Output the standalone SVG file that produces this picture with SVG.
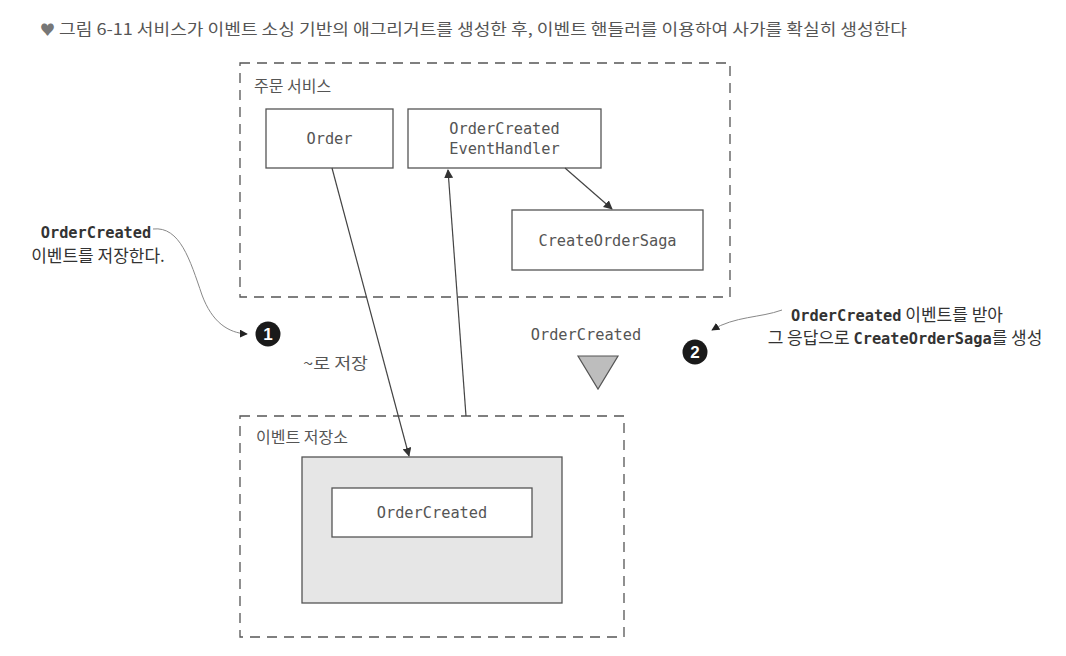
<svg xmlns="http://www.w3.org/2000/svg" width="1066" height="656" viewBox="0 0 1066 656">
<style>
.ko{font-family:"Noto Sans CJK KR","Noto Sans",sans-serif;}
.mono{font-family:"DejaVu Sans Mono","Liberation Mono",monospace;}
.box{fill:#fff;stroke:#555;stroke-width:1.3;}
.dash{fill:none;stroke:#555;stroke-width:1.3;stroke-dasharray:10 7;}
.node{font-size:15.3px;fill:#555;text-anchor:middle;}
.lbl{font-size:16px;fill:#555;}
.ann{font-size:17px;fill:#333;}
.annm{font-size:15.3px;}
.conn{fill:none;stroke:#444;stroke-width:1.2;}
.thin{fill:none;stroke:#888;stroke-width:1;}
</style>
<defs>
<marker id="ah" viewBox="0 0 10 10" refX="9" refY="5" markerWidth="9" markerHeight="9" markerUnits="userSpaceOnUse" orient="auto">
<path d="M0,0 L10,5 L0,10 z" fill="#333"/>
</marker>
<marker id="ah2" viewBox="0 0 10 10" refX="9" refY="5" markerWidth="8" markerHeight="8" markerUnits="userSpaceOnUse" orient="auto">
<path d="M0,0 L10,5 L0,10 z" fill="#222"/>
</marker>
</defs>
<rect width="1066" height="656" fill="#fff"/>

<g id="title">
<text x="40" y="35" class="ko" font-size="15px" fill="#777">♥</text>
<text x="59" y="35" class="ko" font-size="15.5px" fill="#555" textLength="848" lengthAdjust="spacingAndGlyphs">그림 6-11  서비스가 이벤트 소싱 기반의 애그리거트를 생성한 후, 이벤트 핸들러를 이용하여 사가를 확실히 생성한다</text>
</g>

<g id="order-service">
<rect x="240" y="63" width="490" height="234" class="dash"/>
<text x="254" y="92" class="ko lbl">주문 서비스</text>
</g>

<g id="order">
<rect x="266" y="109" width="127" height="59" class="box"/>
<text x="329.5" y="144" class="mono node">Order</text>
</g>

<g id="handler">
<rect x="408" y="109" width="193" height="59" class="box"/>
<text x="504.5" y="134" class="mono node">OrderCreated</text>
<text x="504.5" y="154" class="mono node">EventHandler</text>
</g>

<g id="saga">
<rect x="512" y="210" width="191" height="60" class="box"/>
<text x="607.5" y="246" class="mono node">CreateOrderSaga</text>
</g>

<g id="event-store">
<rect x="240" y="416" width="384" height="221" class="dash"/>
<text x="256" y="443" class="ko lbl">이벤트 저장소</text>
<rect x="302" y="457" width="260" height="146" fill="#e6e6e6" stroke="#555" stroke-width="1.3"/>
<rect x="332" y="488" width="200" height="49" class="box"/>
<text x="432" y="518" class="mono node">OrderCreated</text>
</g>

<g id="event-msg">
<text x="586" y="340" class="mono node">OrderCreated</text>
<polygon points="578,356 618,356 598,389" fill="#bdbdbd" stroke="#555" stroke-width="1.2"/>
</g>

<g id="connectors">
<line x1="332" y1="168" x2="409" y2="456" class="conn" marker-end="url(#ah)"/>
<line x1="466" y1="416" x2="448" y2="170" class="conn" marker-end="url(#ah)"/>
<line x1="565" y1="168" x2="612" y2="209" class="conn" marker-end="url(#ah)"/>
<path d="M153,229 C180,226 190,260 202,295 C212,322 228,333 247,334" class="thin" marker-end="url(#ah2)"/>
<path d="M782,310 C760,318 735,316 712,330" class="thin" marker-end="url(#ah2)"/>
</g>

<g id="note1">
<text x="96" y="238" class="mono ann annm" font-weight="bold" text-anchor="middle">OrderCreated</text>
<text x="98" y="262" class="ko ann" text-anchor="middle">이벤트를 저장한다.</text>
<circle cx="268" cy="334" r="12.5" fill="#1a1a1a"/>
<text x="268" y="340" font-family="Liberation Sans,sans-serif" font-weight="bold" font-size="17px" fill="#fff" text-anchor="middle">1</text>
<text x="303" y="369" class="ko lbl" textLength="65" lengthAdjust="spacingAndGlyphs">~로 저장</text>
</g>

<g id="note2">
<text x="897" y="321" class="ann" text-anchor="middle"><tspan class="mono annm" font-weight="bold">OrderCreated</tspan><tspan class="ko"> 이벤트를 받아</tspan></text>
<text x="905" y="344" class="ann" text-anchor="middle"><tspan class="ko">그 응답으로 </tspan><tspan class="mono annm" font-weight="bold">CreateOrderSaga</tspan><tspan class="ko">를 생성</tspan></text>
<circle cx="695" cy="352" r="12.5" fill="#1a1a1a"/>
<text x="695" y="358" font-family="Liberation Sans,sans-serif" font-weight="bold" font-size="17px" fill="#fff" text-anchor="middle">2</text>
</g>
</svg>
